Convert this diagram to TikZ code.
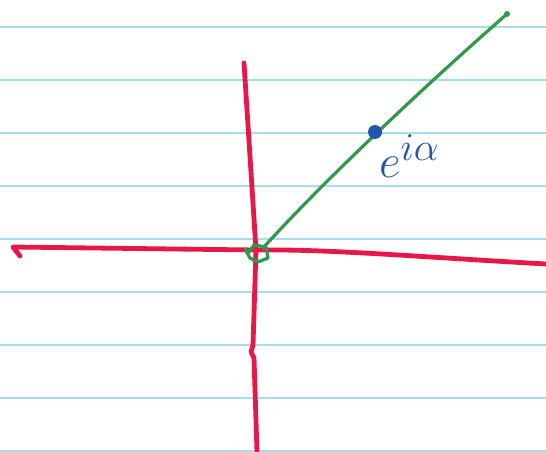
\documentclass[tikz,border=0pt]{standalone}
\usetikzlibrary{positioning,calc}
\definecolor{penred}{HTML}{E8174A}
\definecolor{pengreen}{HTML}{2E9B4A}
\definecolor{penblue}{HTML}{2453B0}
\definecolor{ruling}{HTML}{A6DDEA}

\begin{document}
\begin{tikzpicture}[
  x=1pt, y=-1pt,
  rule/.style={draw=ruling, line width=1.3pt},
  axis/.style={draw=penred, line width=4.8pt, line cap=round, line join=round},
  ray/.style={draw=pengreen, line width=3.2pt, line cap=round, line join=round},
  pt/.style={circle, fill=penblue, inner sep=0pt, minimum size=14pt},
  lbl/.style={text=penblue, font=\Huge, inner sep=0pt},
]
\useasboundingbox (0,0) rectangle (546,452);
\fill[white] (0,0) rectangle (546,452);

% ---- ruled paper ---------------------------------------------------------
\foreach \y in {27,80,133,186,239,292,345,398,451}
  \draw[rule] (0,\y) -- (546,\y);

% ---- axes ----------------------------------------------------------------
\coordinate (O) at (256,250);
\coordinate (xend) at (546,264);
\coordinate (xtip) at (13,247);
\coordinate (ytop) at (244,63);
\coordinate (ybot) at (257,452);

\draw[axis] (xend) .. controls (420,257) and (330,249) .. (O) -- (xtip)
  -- (20,256);
\draw[axis] (ytop) -- (O) -- (253,345) -- (251,352) -- (254,358) -- (ybot);

% ---- ray, its end point and the marked point -----------------------------
\coordinate (rend) at (507,14);
\draw[ray] (263,248) .. controls (320,185) and (420,90) .. (rend);
\fill[pengreen] (rend) circle (3pt);
\draw[ray] (249,252) -- (254,245) -- (266,247) -- (268,258) -- (258,262)
  -- (250,258) -- (245,249);

\node[pt] (z) at (375,132) {};
\node[lbl, anchor=north west] (zlabel) at ($(z)+(4,2)$)
  {\scalebox{1.9}{$e^{i\alpha}$}};

\end{tikzpicture}
\end{document}
